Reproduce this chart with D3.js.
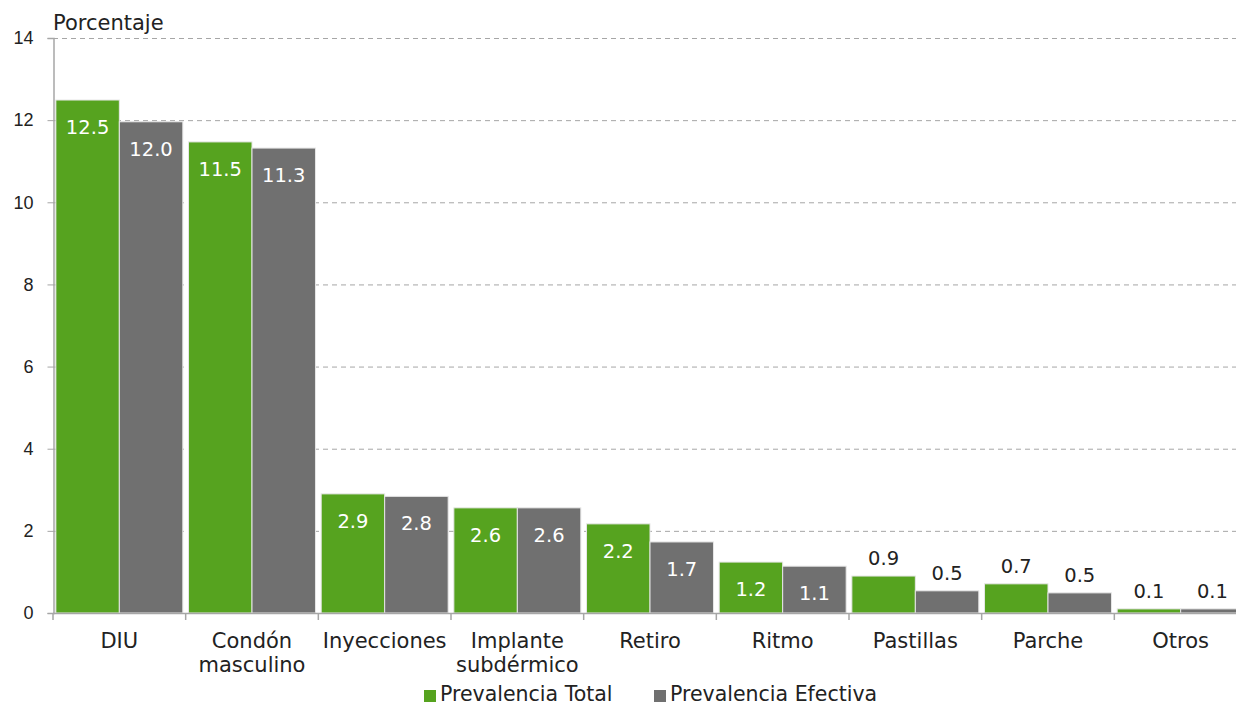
<!DOCTYPE html>
<html>
<head>
<meta charset="utf-8">
<script src="https://cdn.jsdelivr.net/npm/d3@7"></script>
<style>
  html, body { margin: 0; padding: 0; background: #fff; }
  svg { display: block; font-family: "DejaVu Sans", "Noto Sans", sans-serif; }
</style>
</head>
<body>
<svg id="chart" width="1236" height="707"></svg>
<script>
// Métodos anticonceptivos: prevalencia total y efectiva (porcentaje)
const categories = [
  ["DIU"], ["Condón", "masculino"], ["Inyecciones"], ["Implante", "subdérmico"],
  ["Retiro"], ["Ritmo"], ["Pastillas"], ["Parche"], ["Otros"]
];
const seriesNames = ["Prevalencia Total", "Prevalencia Efectiva"];
const prevalenciaTotal    = [12.49, 11.47, 2.90, 2.56, 2.17, 1.24, 0.90, 0.71, 0.10];
const prevalenciaEfectiva = [11.96, 11.32, 2.84, 2.56, 1.73, 1.14, 0.54, 0.49, 0.10];
const yTicks = [0, 2, 4, 6, 8, 10, 12, 14];
const colors = ["#56a31f", "#707070"];

const svg = d3.select("#chart");
const margin = { left: 53, top: 38, bottom: 613 };
const plotRight = 1247;

const x = d3.scaleBand()
  .domain(d3.range(categories.length))
  .range([margin.left, plotRight])
  .paddingInner(0.043)
  .paddingOuter(0.0215);

const xSub = d3.scaleBand()
  .domain([0, 1])
  .range([0, x.bandwidth()]);

const y = d3.scaleLinear().domain([0, 14]).range([margin.bottom, margin.top]);

// Líneas de cuadrícula punteadas
svg.append("g")
  .selectAll("line")
  .data(yTicks.filter(d => d > 0))
  .join("line")
  .attr("x1", margin.left)
  .attr("x2", 1236)
  .attr("y1", d => y(d) + 0.5)
  .attr("y2", d => y(d) + 0.5)
  .attr("stroke", "#a6a6a6")
  .attr("stroke-width", 1)
  .attr("stroke-dasharray", "5,4");

// Eje Y
const yAxis = svg.append("g")
  .attr("transform", `translate(${margin.left + 0.5},0)`)
  .call(d3.axisLeft(y).tickValues(yTicks).tickSize(6).tickPadding(14).tickFormat(d3.format("d")));
yAxis.select(".domain").attr("stroke", "#a6a6a6").attr("stroke-width", 1.5);
yAxis.selectAll(".tick line").attr("stroke", "#a6a6a6");
yAxis.selectAll(".tick text").attr("fill", "#222").attr("font-size", 18);

svg.append("text")
  .attr("x", 53)
  .attr("y", 30)
  .attr("font-size", 21)
  .attr("fill", "#222")
  .text("Porcentaje");

// Barras
const series = [prevalenciaTotal, prevalenciaEfectiva];
const fmt = d3.format(".1f");
const groups = svg.append("g")
  .selectAll("g")
  .data(categories)
  .join("g")
  .attr("transform", (d, i) => `translate(${x(i)},0)`);

groups.each(function (c, i) {
  const g = d3.select(this);
  series.forEach((vals, s) => {
    const v = vals[i];
    const bx = xSub(s);
    const bw = xSub.bandwidth();
    g.append("rect")
      .attr("x", bx)
      .attr("y", y(v))
      .attr("width", bw)
      .attr("height", y(0) - y(v))
      .attr("fill", colors[s])
      .attr("stroke", "#e6e6e6")
      .attr("stroke-width", 1);
    const inside = v >= 1;
    g.append("text")
      .attr("x", bx + bw / 2)
      .attr("y", inside ? y(v) + 34 : y(v) - 11)
      .attr("text-anchor", "middle")
      .attr("font-size", 19.5)
      .attr("fill", inside ? "#ffffff" : "#222")
      .text(fmt(v));
  });
});

// Eje X
svg.append("line")
  .attr("x1", margin.left)
  .attr("x2", 1236)
  .attr("y1", y(0) + 0.5)
  .attr("y2", y(0) + 0.5)
  .attr("stroke", "#a6a6a6")
  .attr("stroke-width", 1.5);

const tickXs = d3.range(categories.length + 1).map(i => margin.left + i * (plotRight - margin.left) / categories.length);
svg.append("g")
  .selectAll("line")
  .data(tickXs)
  .join("line")
  .attr("x1", d => d)
  .attr("x2", d => d)
  .attr("y1", y(0))
  .attr("y2", y(0) + 7)
  .attr("stroke", "#a6a6a6")
  .attr("stroke-width", 1.5);

const labels = svg.append("g")
  .selectAll("text")
  .data(categories)
  .join("text")
  .attr("x", (d, i) => x(i) + x.bandwidth() / 2)
  .attr("y", 648)
  .attr("text-anchor", "middle")
  .attr("font-size", 21)
  .attr("fill", "#222");
labels.each(function (lines) {
  d3.select(this).selectAll("tspan")
    .data(lines)
    .join("tspan")
    .attr("x", d3.select(this).attr("x"))
    .attr("dy", (d, j) => j === 0 ? 0 : 24)
    .text(d => d);
});

// Leyenda
const legendItems = [
  { name: seriesNames[0], color: colors[0], x: 424 },
  { name: seriesNames[1], color: colors[1], x: 654 }
];
const legend = svg.append("g")
  .selectAll("g")
  .data(legendItems)
  .join("g")
  .attr("transform", d => `translate(${d.x},0)`);
legend.append("rect")
  .attr("x", 0).attr("y", 690).attr("width", 12).attr("height", 12)
  .attr("fill", d => d.color);
legend.append("text")
  .attr("x", 16).attr("y", 701)
  .attr("font-size", 20.5)
  .attr("fill", "#222")
  .text(d => d.name);
</script>
</body>
</html>
